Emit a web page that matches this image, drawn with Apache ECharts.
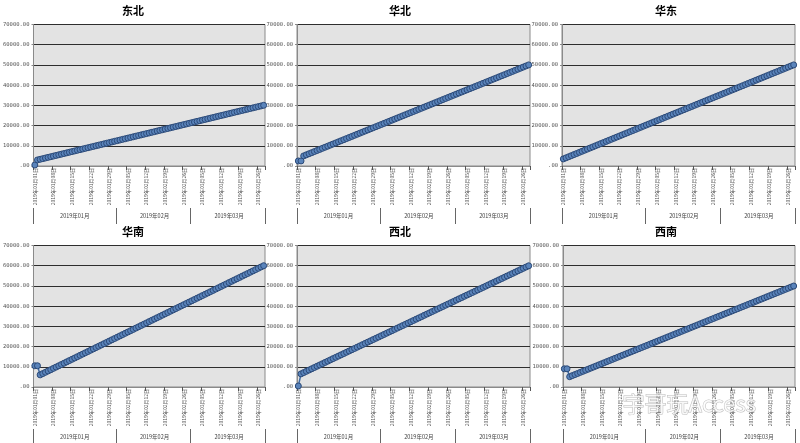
<!DOCTYPE html>
<html><head><meta charset="utf-8">
<script src="https://cdn.jsdelivr.net/npm/echarts@6/dist/echarts.min.js"></script>
<style>html,body{margin:0;padding:0;background:#fff}#c{width:800px;height:443px}</style>
</head><body><div id="c"></div>
<script>
// ---- data ----
const regions = ['东北','华北','华东','华南','西北','西南'];
const monthLabels = ['2019年01月','2019年02月','2019年03月'];
const monthDays = [31,28,28];
const yTicks = [0,10000,20000,30000,40000,50000,60000,70000];

const dongbei = [500,3000,3318,3636,3954,4272,4590,4908,5226,5544,5862,6180,6498,6816,7134,7452,7770,8088,8406,8724,9042,9360,9678,9996,10314,10632,10950,11268,11586,11904,12222,12540,12858,13176,13494,13812,14130,14448,14766,15084,15402,15720,16038,16356,16674,16992,17310,17628,17946,18264,18582,18900,19218,19536,19854,20172,20490,20808,21126,21444,21762,22080,22398,22716,23034,23352,23670,23988,24306,24624,24942,25260,25578,25896,26214,26532,26850,27168,27486,27804,28122,28440,28758,29076,29394,29712,30030];
const huabei = [2500,2500,5000,5536,6072,6608,7144,7680,8216,8752,9288,9824,10360,10896,11432,11968,12504,13040,13576,14112,14648,15184,15720,16256,16792,17328,17864,18400,18936,19472,20008,20544,21080,21616,22152,22688,23224,23760,24296,24832,25368,25904,26440,26976,27512,28048,28584,29120,29656,30192,30728,31264,31800,32336,32872,33408,33944,34480,35016,35552,36088,36624,37160,37696,38232,38768,39304,39840,40376,40912,41448,41984,42520,43056,43592,44128,44664,45200,45736,46272,46808,47344,47880,48416,48952,49488,50024];
const huadong = [3500,4041,4582,5123,5664,6205,6746,7287,7828,8369,8910,9451,9992,10533,11074,11615,12156,12697,13238,13779,14320,14861,15402,15943,16484,17025,17566,18107,18648,19189,19730,20271,20812,21353,21894,22435,22976,23517,24058,24599,25140,25681,26222,26763,27304,27845,28386,28927,29468,30009,30550,31091,31632,32173,32714,33255,33796,34337,34878,35419,35960,36501,37042,37583,38124,38665,39206,39747,40288,40829,41370,41911,42452,42993,43534,44075,44616,45157,45698,46239,46780,47321,47862,48403,48944,49485,50026];
const huanan = [10500,10500,6000,6643,7286,7929,8572,9215,9858,10501,11144,11787,12430,13073,13716,14359,15002,15645,16288,16931,17574,18217,18860,19503,20146,20789,21432,22075,22718,23361,24004,24647,25290,25933,26576,27219,27862,28505,29148,29791,30434,31077,31720,32363,33006,33649,34292,34935,35578,36221,36864,37507,38150,38793,39436,40079,40722,41365,42008,42651,43294,43937,44580,45223,45866,46509,47152,47795,48438,49081,49724,50367,51010,51653,52296,52939,53582,54225,54868,55511,56154,56797,57440,58083,58726,59369,60012];
const xibei = [500,6500,7129,7758,8387,9016,9645,10274,10903,11532,12161,12790,13419,14048,14677,15306,15935,16564,17193,17822,18451,19080,19709,20338,20967,21596,22225,22854,23483,24112,24741,25370,25999,26628,27257,27886,28515,29144,29773,30402,31031,31660,32289,32918,33547,34176,34805,35434,36063,36692,37321,37950,38579,39208,39837,40466,41095,41724,42353,42982,43611,44240,44869,45498,46127,46756,47385,48014,48643,49272,49901,50530,51159,51788,52417,53046,53675,54304,54933,55562,56191,56820,57449,58078,58707,59336,59965];
const xinan = [9000,9000,5100,5634,6168,6702,7236,7770,8304,8838,9372,9906,10440,10974,11508,12042,12576,13110,13644,14178,14712,15246,15780,16314,16848,17382,17916,18450,18984,19518,20052,20586,21120,21654,22188,22722,23256,23790,24324,24858,25392,25926,26460,26994,27528,28062,28596,29130,29664,30198,30732,31266,31800,32334,32868,33402,33936,34470,35004,35538,36072,36606,37140,37674,38208,38742,39276,39810,40344,40878,41412,41946,42480,43014,43548,44082,44616,45150,45684,46218,46752,47286,47820,48354,48888,49422,49956];
const seriesData = [dongbei, huabei, huadong, huanan, xibei, xinan];

// date categories (labels only)
const categories = [];
monthLabels.forEach((m, mi) => {
  for (let d = 1; d <= monthDays[mi]; d++) categories.push(m + String(d).padStart(2,'0') + '日');
});
const monthStarts = [];
const monthMids = [];
let acc = 0;
monthDays.forEach(n => { monthStarts.push(acc); monthMids.push(acc + Math.floor(n/2)); acc += n; });

// ---- layout ----
const panels = [
  {left:31, top:24.5, width:234, tx:133, ty:5},
  {left:297, top:24.5, width:233, tx:400, ty:5},
  {left:562, top:24.5, width:233, tx:666, ty:5},
  {left:31, top:245.5, width:234, tx:133, ty:226},
  {left:297, top:245.5, width:233, tx:400, ty:226},
  {left:563, top:245.5, width:232, tx:666, ty:226}
];
const H = 141.5;

const option = {
  backgroundColor:'#ffffff',
  animation:false,
  title:[], grid:[], xAxis:[], yAxis:[], series:[],
  graphic:[{type:'text', left:622, top:392, z:100,
    style:{text:'宇哥玩Access', fontSize:22, fontFamily:'Noto Sans CJK SC', fill:'rgba(255,255,255,0.8)', stroke:'rgba(120,120,120,0.5)', lineWidth:1}}]
};

panels.forEach((p, i) => {
  option.title.push({text: regions[i], left: p.tx, top: p.ty, textAlign:'center', padding:0,
    textStyle:{fontSize:11, fontWeight:'bold', color:'#000', fontFamily:'Noto Sans CJK SC'}});
  option.grid.push({left:p.left, top:p.top, width:p.width, height:H, show:true,
    backgroundColor:'#e3e3e3', borderColor:'#8a8a8a', borderWidth:1});
  option.xAxis.push({type:'category', gridIndex:i, data:categories, boundaryGap:true,
    axisLine:{show:true, lineStyle:{color:'#8a8a8a'}},
    axisTick:{show:true, interval:6, length:4, lineStyle:{color:'#555'}},
    axisLabel:{interval:6, rotate:90, fontSize:5, color:'#555', margin:2, fontFamily:'Noto Sans CJK SC'},
    splitLine:{show:false}});
  option.xAxis.push({type:'category', gridIndex:i, data:categories, boundaryGap:true, position:'bottom', offset:42,
    axisLine:{show:false},
    axisTick:{show:true, length:16, interval:(idx)=>monthStarts.includes(idx), lineStyle:{color:'#666'}},
    axisLabel:{show:true, interval:(idx)=>monthMids.includes(idx), formatter:(v)=>v.slice(0,8),
      fontSize:5.5, color:'#444', margin:5, fontFamily:'Noto Sans CJK SC'},
    splitLine:{show:false}});
  option.yAxis.push({type:'value', gridIndex:i, min:yTicks[0], max:yTicks[yTicks.length-1], interval:10000,
    axisLine:{show:true, lineStyle:{color:'#8a8a8a'}},
    axisTick:{show:true, length:2, lineStyle:{color:'#8a8a8a'}},
    axisLabel:{fontSize:5.5, color:'#555', margin:4, fontFamily:'DejaVu Sans Mono',
      formatter:(v)=> v===0 ? '.00' : v.toFixed(2)},
    splitLine:{show:true, lineStyle:{color:'#2e2e2e', width:1}}});
  option.series.push({type:'line', xAxisIndex:i*2, yAxisIndex:i, data:seriesData[i],
    symbol:'circle', symbolSize:6, showAllSymbol:true,
    itemStyle:{color:'#5a84bb', borderColor:'#2c4a78', borderWidth:1},
    lineStyle:{color:'#3e6aa3', width:1.5}});
});

const chart = echarts.init(document.getElementById('c'), null, {renderer:'canvas'});
chart.setOption(option);
</script>
</body></html>
